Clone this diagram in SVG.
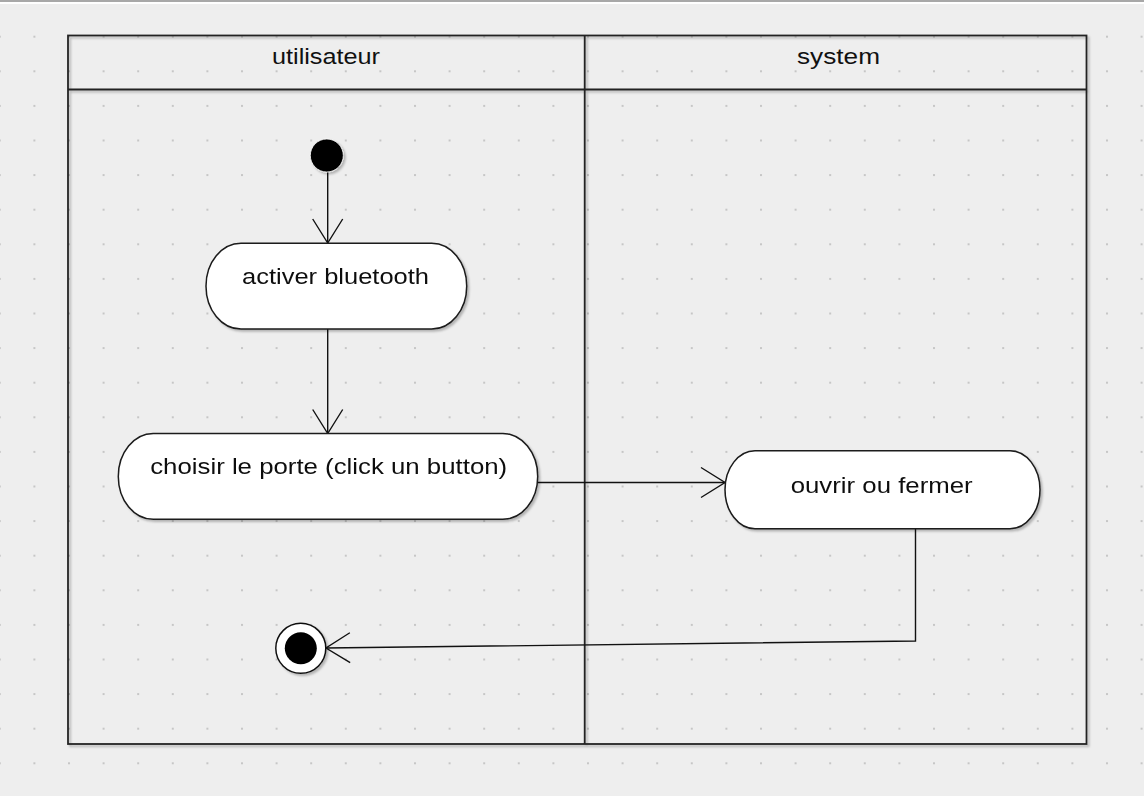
<svg xmlns="http://www.w3.org/2000/svg" width="1144" height="796" viewBox="0 0 1144 796">
  <defs>
    <pattern id="grid" patternUnits="userSpaceOnUse" x="-1.2" y="1.1" width="34.6" height="34.6">
      <rect x="0" y="0" width="2" height="2" fill="#c6c6c6"/>
    </pattern>
    <filter id="sh" x="-10%" y="-10%" width="130%" height="130%">
      <feDropShadow dx="2" dy="2" stdDeviation="1.2" flood-color="#000" flood-opacity="0.25"/>
    </filter>
    <marker id="arr" markerUnits="userSpaceOnUse" viewBox="-26 -17 28 34" refX="0" refY="0" markerWidth="28" markerHeight="34" orient="auto" overflow="visible">
      <path d="M-24,-15 L0,0 L-24,15" fill="none" stroke="#111" stroke-width="1.4"/>
    </marker>
    <style>
      .frame { fill: none; stroke: #222; stroke-width: 1.8; }
      .act { fill: #ffffff; stroke: #1a1a1a; stroke-width: 1.5; }
      .lbl { font-family: "Liberation Sans", Arial, sans-serif; font-size: 22px; fill: #111; text-anchor: middle; }
      .conn { fill: none; stroke: #111; stroke-width: 1.4; }
    </style>
  </defs>

  <rect x="0" y="0" width="1144" height="796" fill="#eeeeee"/>
  <rect x="0" y="0" width="1144" height="796" fill="url(#grid)"/>
  <rect x="0" y="0" width="1144" height="2" fill="#a8a8a8"/>
  <rect x="0" y="2" width="1144" height="2" fill="#ffffff"/>

  <g id="swimlanes" filter="url(#sh)">
    <rect class="frame" x="68" y="35.5" width="1018.5" height="708.5"/>
    <line class="frame" x1="68" y1="89.5" x2="1086.5" y2="89.5"/>
    <line class="frame" x1="584.7" y1="35.5" x2="584.7" y2="744"/>
  </g>
  <g id="lane-utilisateur">
    <text class="lbl" x="326" y="64" textLength="108" lengthAdjust="spacingAndGlyphs">utilisateur</text>
  </g>
  <g id="lane-system">
    <text class="lbl" x="838.5" y="64" textLength="83" lengthAdjust="spacingAndGlyphs">system</text>
  </g>

  <g id="connectors">
    <line class="conn" x1="327.7" y1="172" x2="327.7" y2="243" marker-end="url(#arr)"/>
    <line class="conn" x1="327.7" y1="329" x2="327.7" y2="433.5" marker-end="url(#arr)"/>
    <line class="conn" x1="538" y1="482.5" x2="725" y2="482.5" marker-end="url(#arr)"/>
    <polyline class="conn" points="915.5,529 915.5,641 326,648" marker-end="url(#arr)"/>
  </g>

  <g id="start">
    <circle cx="326.8" cy="155.5" r="16.5" fill="#000" stroke="#ffffff" stroke-width="0.8" filter="url(#sh)"/>
  </g>

  <g id="activer-bluetooth" filter="url(#sh)">
    <rect class="act" x="206" y="243.3" width="260.7" height="85.7" rx="35" ry="42.8"/>
    <text class="lbl" x="335.5" y="284" textLength="187" lengthAdjust="spacingAndGlyphs">activer bluetooth</text>
  </g>

  <g id="choisir-porte" filter="url(#sh)">
    <rect class="act" x="118.3" y="433.5" width="419.4" height="85.8" rx="35" ry="42.9"/>
    <text class="lbl" x="328.7" y="474" textLength="357" lengthAdjust="spacingAndGlyphs">choisir le porte (click un button)</text>
  </g>

  <g id="ouvrir-fermer" filter="url(#sh)">
    <rect class="act" x="725" y="450.7" width="315" height="78" rx="30" ry="39"/>
    <text class="lbl" x="881.7" y="492.7" textLength="182" lengthAdjust="spacingAndGlyphs">ouvrir ou fermer</text>
  </g>

  <g id="end" filter="url(#sh)">
    <circle cx="300.8" cy="648.3" r="25" fill="#ffffff" stroke="#111" stroke-width="1.5"/>
    <circle cx="300.8" cy="648.3" r="16" fill="#000"/>
  </g>
</svg>
